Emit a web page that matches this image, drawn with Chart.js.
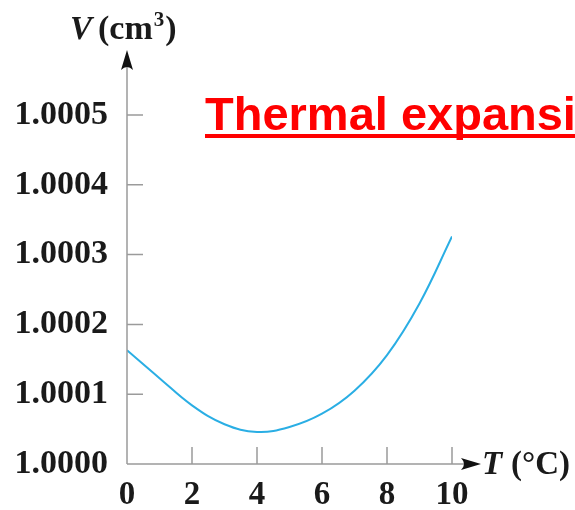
<!DOCTYPE html>
<html>
<head>
<meta charset="utf-8">
<script src="https://cdn.jsdelivr.net/npm/chart.js@4"></script>
<style>
    html, body { margin: 0; padding: 0; background: #fff; }
    #wrap { width: 575px; height: 510px; }
</style>
</head>
<body>
<div id="wrap"><canvas id="myChart"></canvas></div>
<script>
const temps = [0, 1, 2, 3, 4, 5, 6, 7, 8, 9, 10]
const volume = [1.000163, 1.000123, 1.000084, 1.000057, 1.000046, 1.000053, 1.000072, 1.000105, 1.000156, 1.000230, 1.000326]
const xTicks = [0, 2, 4, 6, 8, 10]
const yTicks = [1.0000, 1.0001, 1.0002, 1.0003, 1.0004, 1.0005]

const points = []
temps.forEach((t, i) => {
    points.push({ x: t, y: volume[i] })
})

const serif = "'Liberation Serif', 'Times New Roman', serif"
const axisGray = '#9b9b9b'

function arrowHead(ctx, x, y, dir) {
    // dir: 'up' or 'right', tip at (x, y)
    ctx.save()
    ctx.translate(x, y)
    if (dir === 'up') ctx.rotate(-Math.PI / 2)
    ctx.beginPath()
    ctx.moveTo(0, 0)
    ctx.lineTo(-20, -6)
    ctx.quadraticCurveTo(-14, 0, -20, 6)
    ctx.closePath()
    ctx.fillStyle = '#111'
    ctx.fill()
    ctx.restore()
}

const axesPlugin = {
    id: 'axesPlugin',
    afterDraw(chart) {
        const ctx = chart.ctx
        const xs = chart.scales.x
        const ys = chart.scales.y
        const x0 = xs.getPixelForValue(0)
        const y0 = ys.getPixelForValue(1.0000)

        ctx.save()
        ctx.strokeStyle = axisGray
        ctx.lineWidth = 1.5

        // axis lines
        ctx.beginPath()
        ctx.moveTo(x0, y0)
        ctx.lineTo(x0, 60)
        ctx.moveTo(x0, y0)
        ctx.lineTo(470, y0)
        ctx.stroke()

        // inward tick marks
        ctx.beginPath()
        yTicks.slice(1).forEach((v) => {
            const py = ys.getPixelForValue(v)
            ctx.moveTo(x0, py)
            ctx.lineTo(x0 + 16, py)
        })
        xTicks.slice(1).forEach((v) => {
            const px = xs.getPixelForValue(v)
            ctx.moveTo(px, y0)
            ctx.lineTo(px, y0 - 17)
        })
        ctx.stroke()

        arrowHead(ctx, x0, 50, 'up')
        arrowHead(ctx, 481, y0, 'right')

        // axis titles
        ctx.fillStyle = '#1a1a1a'
        ctx.textBaseline = 'alphabetic'
        ctx.textAlign = 'left'
        ctx.font = 'italic bold 33px ' + serif
        ctx.fillText('V', 70, 39)
        ctx.font = 'bold 34px ' + serif
        ctx.fillText('(cm', 98, 39)
        let w = ctx.measureText('(cm').width
        ctx.font = 'bold 21px ' + serif
        ctx.fillText('3', 98 + w + 1, 26)
        let w3 = ctx.measureText('3').width
        ctx.font = 'bold 34px ' + serif
        ctx.fillText(')', 98 + w + w3 + 2, 39)

        ctx.font = 'italic bold 33px ' + serif
        ctx.fillText('T', 482, 474)
        ctx.font = 'bold 33px ' + serif
        ctx.fillText('(°C)', 511, 474)

        // red underlined heading
        ctx.fillStyle = '#ff0000'
        ctx.font = "bold 47px 'Liberation Sans', Arial, sans-serif"
        ctx.fillText('Thermal expansion', 205, 130)
        ctx.fillRect(205, 134, 400, 4)
        ctx.restore()
    },
}

const data = {
    datasets: [
        {
            data: points,
            borderColor: '#2aaee4',
            borderWidth: 2,
            pointRadius: 0,
            tension: 0.4,
            fill: false,
        },
    ],
}

const config = {
    type: 'line',
    data: data,
    options: {
        responsive: false,
        animation: false,
        layout: {
            padding: { top: 115, right: 123, left: 0, bottom: 0 },
        },
        plugins: {
            legend: { display: false },
            tooltip: { enabled: false },
        },
        scales: {
            x: {
                type: 'linear',
                min: 0,
                max: 10,
                afterFit: (s) => { s.height = 46 },
                afterBuildTicks: (s) => { s.ticks = xTicks.map((v) => ({ value: v })) },
                grid: { display: false, drawTicks: false },
                border: { display: false },
                ticks: {
                    padding: 12,
                    color: '#1a1a1a',
                    font: { family: serif, size: 33, weight: 'bold' },
                    maxRotation: 0,
                },
            },
            y: {
                type: 'linear',
                min: 1.0000,
                max: 1.0005,
                afterFit: (s) => { s.width = 127 },
                afterBuildTicks: (s) => { s.ticks = yTicks.map((v) => ({ value: v })) },
                grid: { display: false, drawTicks: false },
                border: { display: false },
                ticks: {
                    padding: 19,
                    color: '#1a1a1a',
                    font: { family: serif, size: 34, weight: 'bold' },
                    callback: (v) => v.toFixed(4),
                },
            },
        },
    },
    plugins: [axesPlugin],
}

const canvas = document.getElementById('myChart')
canvas.width = 575
canvas.height = 510
const myChart = new Chart(canvas, config)
</script>
</body>
</html>
